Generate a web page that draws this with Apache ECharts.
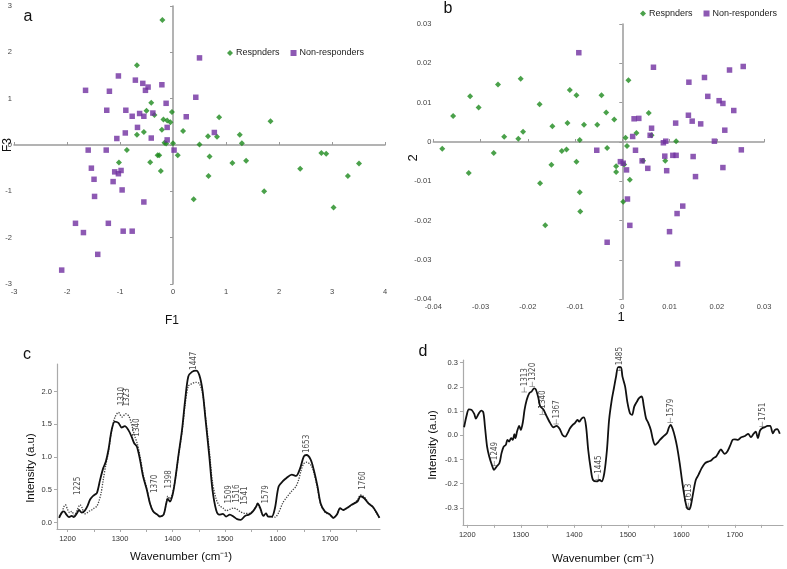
<!DOCTYPE html>
<html><head><meta charset="utf-8">
<script src="https://cdn.jsdelivr.net/npm/echarts@6/dist/echarts.min.js"></script>
<style>html,body{margin:0;padding:0;background:#fff}#chart{width:787px;height:569px}</style>
</head><body><div id="chart"></div>
<script>
// ---------- Panel a (F1 vs F3) ----------
const aResponders = [[-0.20,2.70],[-0.68,1.72],[-0.41,0.91],[-0.50,0.74],[-0.35,0.65],[-0.02,0.71],[-0.18,0.55],[-0.11,0.53],[-0.05,0.49],[0.87,0.60],[1.84,0.51],[-0.21,0.33],[0.19,0.30],[-0.55,0.28],[-0.68,0.22],[0.66,0.19],[0.83,0.18],[1.26,0.22],[1.30,0.04],[-0.16,0.05],[-0.13,0.03],[0.0,0.04],[0.50,0.01],[-0.87,-0.11],[0.09,-0.22],[-0.29,-0.22],[-0.26,-0.22],[0.69,-0.25],[1.38,-0.34],[1.12,-0.39],[-1.02,-0.38],[-0.43,-0.37],[-0.23,-0.56],[0.67,-0.67],[2.40,-0.51],[2.80,-0.17],[2.89,-0.19],[3.51,-0.40],[3.30,-0.67],[1.72,-1.00],[0.39,-1.17],[3.03,-1.35]];
const aNonResponders = [[0.50,1.88],[-1.65,1.18],[-1.20,1.16],[-1.03,1.49],[-0.71,1.40],[-0.57,1.33],[-0.47,1.25],[-0.52,1.18],[-0.21,1.30],[0.43,1.03],[-0.13,0.90],[-1.25,0.75],[-0.89,0.75],[-0.63,0.68],[-0.38,0.69],[-0.77,0.62],[-0.55,0.62],[0.25,0.61],[-0.67,0.38],[-0.11,0.38],[0.78,0.27],[-0.90,0.26],[-1.06,0.14],[-0.41,0.15],[-0.11,0.11],[-1.60,-0.11],[-1.26,-0.11],[0.02,-0.11],[-1.54,-0.50],[-1.10,-0.58],[-0.98,-0.55],[-1.03,-0.62],[-1.49,-0.74],[-1.13,-0.79],[-0.96,-0.97],[-1.48,-1.11],[-0.55,-1.23],[-1.84,-1.69],[-1.22,-1.69],[-1.69,-1.89],[-0.94,-1.86],[-0.77,-1.86],[-1.42,-2.36],[-2.10,-2.70]];

// ---------- Panel b (1 vs 2) ----------
const bResponders = [[-0.0381,-0.0017],[-0.0358,0.0066],[-0.0322,0.0116],[-0.0304,0.0088],[-0.0263,0.0146],[-0.0272,-0.0028],[-0.0250,0.0013],[-0.0215,0.0161],[-0.0220,0.0008],[-0.0210,0.0026],[-0.0175,0.0096],[-0.0148,0.0040],[-0.0116,0.0048],[-0.0111,0.0132],[-0.0097,0.0119],[-0.0081,0.0044],[-0.0090,0.0005],[-0.0118,-0.0019],[-0.0128,-0.0023],[-0.0053,0.0044],[-0.0044,0.0119],[-0.0034,0.0075],[-0.0017,0.0057],[-0.0032,-0.0015],[0.0013,0.0157],[0.0007,0.0011],[0.0010,-0.0010],[0.0030,0.0023],[0.0056,0.0074],[0.0062,0.0017],[0.0114,0.0002],[-0.0325,-0.0079],[-0.0150,-0.0058],[-0.0097,-0.0050],[-0.0013,-0.0062],[0.0004,-0.0057],[-0.0013,-0.0076],[0.0016,-0.0096],[0.0044,-0.0048],[0.0091,-0.0048],[-0.0174,-0.0105],[-0.0090,-0.0128],[0.0002,-0.0152],[-0.0089,-0.0177],[-0.0163,-0.0212]];
const bNonResponders = [[-0.0092,0.0227],[0.0066,0.0190],[0.0256,0.0192],[0.0227,0.0183],[0.0174,0.0164],[0.0141,0.0152],[0.0181,0.0116],[0.0205,0.0105],[0.0213,0.0098],[0.0236,0.0080],[0.0140,0.0068],[0.0148,0.0053],[0.0166,0.0046],[0.0113,0.0048],[0.0035,0.0060],[0.0025,0.0059],[0.0062,0.0035],[0.0217,0.0030],[0.0022,0.0014],[0.0059,0.0017],[0.0087,-0.0002],[0.0092,0.0002],[0.0195,0.0002],[-0.0054,-0.0021],[0.0028,-0.0021],[0.0252,-0.0020],[0.0090,-0.0036],[0.0107,-0.0034],[0.0114,-0.0034],[0.0150,-0.0037],[0.0042,-0.0048],[-0.0004,-0.0050],[0.0002,-0.0054],[0.0054,-0.0067],[0.0009,-0.0071],[0.0094,-0.0073],[0.0213,-0.0065],[0.0155,-0.0088],[0.0011,-0.0145],[0.0128,-0.0163],[0.0116,-0.0182],[0.0016,-0.0212],[0.0100,-0.0228],[-0.0032,-0.0255],[0.0117,-0.0310]];

// ---------- Panel c (mean spectra) ----------
const cSolid = [[1184,0.07],[1189,0.15],[1193,0.17],[1198,0.12],[1203,0.08],[1208,0.10],[1212,0.08],[1218,0.14],[1222,0.19],[1227,0.15],[1233,0.18],[1238,0.25],[1243,0.35],[1248,0.40],[1251,0.42],[1256,0.45],[1262,0.65],[1268,0.83],[1273,0.93],[1278,1.11],[1284,1.41],[1290,1.54],[1297,1.52],[1303,1.45],[1309,1.47],[1316,1.41],[1322,1.31],[1327,1.21],[1332,1.16],[1338,0.96],[1344,0.70],[1351,0.50],[1357,0.29],[1363,0.17],[1371,0.12],[1376,0.09],[1383,0.12],[1388,0.29],[1391,0.36],[1395,0.32],[1400,0.42],[1405,0.65],[1411,1.01],[1418,1.41],[1424,1.87],[1430,2.23],[1437,2.30],[1445,2.32],[1451,2.25],[1457,2.02],[1463,1.56],[1470,1.01],[1476,0.50],[1483,0.19],[1489,0.12],[1496,0.13],[1502,0.09],[1509,0.12],[1516,0.09],[1523,0.05],[1530,0.04],[1538,0.10],[1546,0.12],[1553,0.17],[1559,0.24],[1562,0.29],[1567,0.22],[1573,0.10],[1578,0.14],[1582,0.09],[1589,0.09],[1595,0.22],[1602,0.55],[1610,0.63],[1617,0.68],[1627,0.73],[1635,0.71],[1643,0.83],[1650,1.01],[1655,1.03],[1663,0.96],[1669,0.80],[1676,0.55],[1682,0.29],[1690,0.17],[1700,0.12],[1706,0.07],[1713,0.12],[1719,0.22],[1725,0.19],[1732,0.22],[1741,0.27],[1752,0.32],[1758,0.40],[1765,0.37],[1773,0.29],[1781,0.24],[1787,0.17],[1794,0.07]];
const cDotted = [[1184,0.10],[1189,0.14],[1193,0.24],[1196,0.27],[1200,0.20],[1204,0.15],[1208,0.17],[1213,0.11],[1218,0.18],[1224,0.27],[1228,0.22],[1232,0.13],[1236,0.14],[1241,0.17],[1246,0.19],[1251,0.22],[1256,0.25],[1260,0.33],[1264,0.45],[1268,0.65],[1273,0.88],[1278,1.08],[1284,1.40],[1290,1.60],[1297,1.68],[1304,1.61],[1311,1.66],[1317,1.62],[1322,1.50],[1328,1.32],[1333,1.20],[1338,1.02],[1344,0.74],[1351,0.52],[1357,0.30],[1363,0.17],[1371,0.12],[1376,0.10],[1383,0.12],[1388,0.30],[1391,0.40],[1395,0.36],[1400,0.45],[1405,0.65],[1411,1.00],[1418,1.38],[1424,1.80],[1430,2.08],[1437,2.12],[1445,2.14],[1451,2.12],[1457,1.98],[1463,1.60],[1470,1.10],[1476,0.62],[1483,0.36],[1489,0.26],[1496,0.22],[1502,0.18],[1509,0.20],[1516,0.22],[1523,0.20],[1530,0.16],[1538,0.14],[1546,0.14],[1553,0.17],[1559,0.24],[1562,0.27],[1567,0.20],[1573,0.10],[1578,0.14],[1582,0.10],[1589,0.08],[1595,0.08],[1602,0.15],[1610,0.30],[1617,0.38],[1627,0.48],[1635,0.55],[1640,0.65],[1645,0.80],[1650,0.90],[1655,0.92],[1663,0.88],[1669,0.76],[1676,0.52],[1682,0.28],[1690,0.16],[1700,0.11],[1706,0.07],[1713,0.12],[1719,0.21],[1725,0.19],[1732,0.22],[1741,0.27],[1752,0.34],[1758,0.42],[1765,0.39],[1773,0.30],[1781,0.24],[1787,0.16],[1794,0.07]];
const cPeakNames = ['1225','1310','1323','1340','1370','1398','1447','1509','1516','1541','1579','1653','1760'];
const cPeakAnchors = [[1220,0.42],[1303,1.79],[1314,1.77],[1333,1.31],[1366,0.45],[1393,0.52],[1441,2.33],[1508,0.29],[1523,0.30],[1538,0.27],[1578,0.29],[1655,1.06],[1763,0.50]];

// ---------- Panel d (difference spectrum) ----------
const dLine = [[1194,0.033],[1199,0.084],[1203,0.107],[1208,0.105],[1213,0.088],[1216,0.069],[1221,0.088],[1226,0.102],[1230,0.094],[1233,0.036],[1237,-0.047],[1241,-0.088],[1246,-0.123],[1250,-0.143],[1255,-0.129],[1260,-0.116],[1264,-0.074],[1268,-0.047],[1272,-0.040],[1275,-0.019],[1278,-0.026],[1282,-0.012],[1285,-0.019],[1288,0.004],[1290,-0.012],[1293,0.015],[1297,0.039],[1300,0.022],[1304,0.056],[1307,0.105],[1311,0.146],[1316,0.174],[1320,0.180],[1325,0.194],[1328,0.190],[1333,0.153],[1336,0.121],[1342,0.107],[1348,0.080],[1355,0.050],[1361,0.033],[1367,0.039],[1373,0.025],[1378,0.001],[1383,-0.006],[1388,0.011],[1392,0.029],[1397,0.043],[1401,0.050],[1406,0.063],[1409,0.056],[1414,0.070],[1418,0.074],[1422,0.036],[1426,-0.061],[1431,-0.143],[1435,-0.185],[1442,-0.191],[1447,-0.185],[1451,-0.191],[1456,-0.157],[1461,-0.061],[1465,0.063],[1470,0.146],[1474,0.194],[1478,0.242],[1482,0.281],[1487,0.281],[1490,0.242],[1495,0.201],[1499,0.139],[1504,0.091],[1508,0.084],[1512,0.118],[1517,0.139],[1521,0.153],[1526,0.160],[1530,0.118],[1534,0.070],[1538,0.052],[1543,0.022],[1547,-0.019],[1551,-0.040],[1555,-0.033],[1560,-0.019],[1566,-0.006],[1573,0.008],[1577,0.033],[1580,0.043],[1584,0.025],[1588,-0.006],[1592,-0.047],[1597,-0.116],[1602,-0.198],[1607,-0.267],[1611,-0.302],[1615,-0.306],[1618,-0.288],[1622,-0.240],[1627,-0.185],[1632,-0.164],[1638,-0.136],[1644,-0.116],[1650,-0.109],[1655,-0.105],[1660,-0.095],[1665,-0.088],[1669,-0.074],[1674,-0.058],[1677,-0.067],[1681,-0.077],[1686,-0.067],[1691,-0.044],[1696,-0.019],[1700,-0.017],[1706,-0.019],[1712,-0.008],[1719,-0.003],[1725,0.006],[1730,-0.008],[1735,0.006],[1739,0.015],[1743,-0.012],[1747,0.019],[1751,0.029],[1756,0.033],[1761,0.039],[1766,0.039],[1771,0.008],[1775,0.022],[1779,0.025],[1784,0.006]];
const dPeakNames = ['1249','1313','1320','1340','1367','1445','1485','1579','1613','1751'];
const dPeakAnchors = [[1251,-0.129],[1308,0.176],[1323,0.198],[1342,0.084],[1367,0.043],[1446,-0.185],[1486,0.263],[1580,0.050],[1615,-0.302],[1752,0.033]];

// ---------- tick values ----------
const specTickLabels = [1200,1300,1400,1500,1600,1700];
const specTicks = [1200,1250,1300,1350,1400,1450,1500,1550,1600,1650,1700,1750];
const cYTicks = [0,0.5,1.0,1.5,2.0];
const dYTicks = [-0.3,-0.2,-0.1,0,0.1,0.2,0.3];
const legendNames = ['Respnders','Non-responders'];

const GREEN = '#1d8a1d', PURPLE = '#7030a0';
const AX = '#9a9a9a';
const FONT = "'Liberation Sans', Arial, sans-serif";
const NARROW = "'Liberation Sans Narrow', 'DejaVu Sans Condensed', sans-serif";

function scatterAxis(gi, min, max, interval, isX, fmt) {
  return {
    gridIndex: gi, type: 'value', min, max, interval,
    axisLine: {onZero: true, lineStyle: {color: AX, width: 1.5}},
    axisTick: {show: true, inside: isX, length: 3, lineStyle: {color: AX}},
    axisLabel: {fontSize: 7.5, color: '#444', fontFamily: FONT, margin: isX ? 4 : 2, formatter: fmt},
    splitLine: {show: false}
  };
}
const fmtInt = v => String(Math.round(v));
const fmt2 = v => Math.abs(v) < 1e-9 ? '0' : v.toFixed(2);

function specX(gi, min, max) {
  return {
    gridIndex: gi, type: 'value', min, max,
    axisLine: {onZero: false, lineStyle: {color: '#aaa', width: 1.2}},
    axisTick: {show: true, length: 3, customValues: specTicks, lineStyle: {color: '#aaa'}},
    axisLabel: {fontSize: 7.5, color: '#333', fontFamily: FONT, margin: 6, customValues: specTickLabels, formatter: v => String(Math.round(v))},
    splitLine: {show: false}
  };
}
function specY(gi, min, max, ticks) {
  return {
    gridIndex: gi, type: 'value', min, max,
    axisLine: {onZero: false, lineStyle: {color: '#aaa', width: 1.2}},
    axisTick: {show: true, length: 3, customValues: ticks, lineStyle: {color: '#aaa'}},
    axisLabel: {fontSize: 7.5, color: '#333', fontFamily: FONT, margin: 5, customValues: ticks, formatter: v => v.toFixed(1)},
    splitLine: {show: false}
  };
}
function annot(gi, names, anchors) {
  return {
    type: 'scatter', xAxisIndex: gi, yAxisIndex: gi, symbolSize: 0, silent: true, z: 5,
    data: names.map((n, i) => ({name: n, value: anchors[i]})),
    label: {show: true, position: 'inside', rotate: 90, align: 'left', verticalAlign: 'middle',
      formatter: p => (gi === 3 ? '\u22A2' : '') + p.name, fontSize: 8, fontFamily: NARROW, color: '#222'}
  };
}
function txt(x, y, text, size, rot) {
  return {type: 'text', x, y, rotation: rot || 0,
    style: {text, fontSize: size, fontFamily: FONT, fill: '#111', align: 'center', verticalAlign: 'middle'}};
}
function legendAt(left, top) {
  return {left, top, padding: 0, orient: 'horizontal', width: 200, itemWidth: 6, itemHeight: 6, itemGap: 11, selectedMode: false,
    textStyle: {fontSize: 9, fontFamily: FONT, color: '#222', padding: [0, 0, 0, -2]},
    data: [{name: legendNames[0], icon: 'diamond'}, {name: legendNames[1], icon: 'rect'}]};
}

const chart = echarts.init(document.getElementById('chart'));
chart.setOption({
  animation: false,
  backgroundColor: '#fff',
  grid: [
    {left: 14, top: 6, width: 371, height: 278},
    {left: 433.3, top: 24, width: 330.7, height: 275.3},
    {left: 57, top: 364, width: 323, height: 165},
    {left: 463, top: 360.2, width: 320, height: 164.6}
  ],
  xAxis: [
    scatterAxis(0, -3, 4, 1, true, fmtInt),
    scatterAxis(1, -0.04, 0.03, 0.01, true, fmt2),
    specX(2, 1180, 1795),
    specX(3, 1192, 1790)
  ],
  yAxis: [
    scatterAxis(0, -3, 3, 1, false, fmtInt),
    scatterAxis(1, -0.04, 0.03, 0.01, false, fmt2),
    specY(2, -0.1, 2.42, cYTicks),
    specY(3, -0.37, 0.31, dYTicks)
  ],
  legend: [legendAt(227, 48.5), legendAt(640, 9)],
  series: [
    {type: 'scatter', name: legendNames[0], xAxisIndex: 0, yAxisIndex: 0, data: aResponders, symbol: 'diamond', symbolSize: 6, itemStyle: {color: GREEN}},
    {type: 'scatter', name: legendNames[1], xAxisIndex: 0, yAxisIndex: 0, data: aNonResponders, symbol: 'rect', symbolSize: 5.5, itemStyle: {color: PURPLE}},
    {type: 'scatter', name: legendNames[0], xAxisIndex: 1, yAxisIndex: 1, data: bResponders, symbol: 'diamond', symbolSize: 6, itemStyle: {color: GREEN}},
    {type: 'scatter', name: legendNames[1], xAxisIndex: 1, yAxisIndex: 1, data: bNonResponders, symbol: 'rect', symbolSize: 5.5, itemStyle: {color: PURPLE}},
    {type: 'line', xAxisIndex: 2, yAxisIndex: 2, data: cDotted, showSymbol: false, smooth: 0.3, lineStyle: {color: '#444', width: 1.3, type: 'dotted'}},
    {type: 'line', xAxisIndex: 2, yAxisIndex: 2, data: cSolid, showSymbol: false, smooth: 0.3, lineStyle: {color: '#111', width: 1.8}},
    annot(2, cPeakNames, cPeakAnchors),
    {type: 'line', xAxisIndex: 3, yAxisIndex: 3, data: dLine, showSymbol: false, smooth: 0.3, lineStyle: {color: '#111', width: 1.8}},
    annot(3, dPeakNames, dPeakAnchors)
  ],
  graphic: [
    txt(28, 17, 'a', 16), txt(448, 9, 'b', 16), txt(27, 355, 'c', 16), txt(423, 352, 'd', 16),
    txt(172, 321, 'F1', 12), txt(8, 145, 'F3', 12, Math.PI / 2),
    txt(621, 317, '1', 13), txt(413, 158, '2', 13, Math.PI / 2),
    txt(181, 557, 'Wavenumber (cm\u207B\u00B9)', 11.5), txt(31, 468, 'Intensity (a.u)', 11.5, Math.PI / 2),
    txt(603, 559, 'Wavenumber (cm\u207B\u00B9)', 11.5), txt(433, 445, 'Intensity (a.u)', 11.5, Math.PI / 2)
  ]
});
</script>
</body></html>
